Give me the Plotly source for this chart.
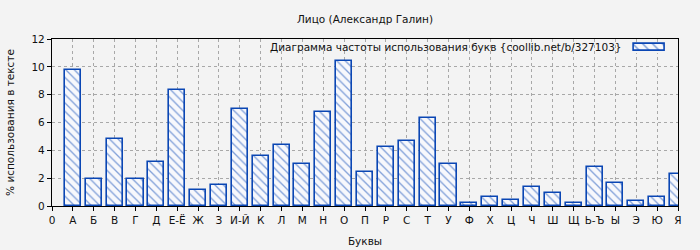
import plotly.graph_objects as go

letters = ["А", "Б", "В", "Г", "Д", "Е-Ё", "Ж", "З", "И-Й", "К", "Л", "М", "Н", "О", "П",
           "Р", "С", "Т", "У", "Ф", "Х", "Ц", "Ч", "Ш", "Щ", "Ь-Ъ", "Ы", "Э", "Ю", "Я"]
values = [9.75, 1.94, 4.79, 1.94, 3.14, 8.33, 1.13, 1.48, 6.97, 3.57, 4.36, 2.99, 6.73, 10.39, 2.42,
          4.21, 4.67, 6.30, 2.99, 0.19, 0.65, 0.41, 1.36, 0.91, 0.19, 2.78, 1.63, 0.34, 0.65, 2.28]
positions = list(range(1, len(letters) + 1))
tick_vals = [0] + positions
tick_text = ["0"] + letters

title = "Лицо (Александр Галин)"
legend_text = "Диаграмма частоты использования букв {coollib.net/b/327103}"
x_title = "Буквы"
y_title = "% использования в тексте"

blue = "#0a46b4"
bg = "#f3f3f3"
font = "DejaVu Sans"
fs = 10.5
pattern = dict(shape="\\", fgcolor=blue, bgcolor="#f7f8fc", size=6, solidity=0.22)

fig = go.Figure()
fig.add_trace(go.Bar(
    x=positions, y=values, width=0.77,
    marker=dict(color="#f7f8fc", line=dict(color=blue, width=1.6), pattern=pattern),
    showlegend=False, hoverinfo="x+y",
))
# legend swatch (drawn on a small overlay axis, to the right of the legend text)
fig.add_trace(go.Bar(
    x=[0.5], y=[1], width=1, xaxis="x2", yaxis="y2",
    marker=dict(color="#f7f8fc", line=dict(color=blue, width=1.6),
                pattern=dict(shape="\\", fgcolor=blue, bgcolor="#f7f8fc", size=7, solidity=0.22)),
    showlegend=False, hoverinfo="skip",
))

fig.update_layout(
    width=700, height=250,
    margin=dict(l=52, r=22, t=39, b=44, autoexpand=False),
    paper_bgcolor=bg, plot_bgcolor=bg,
    font=dict(family=font, size=fs, color="#111"),
    title=dict(text=title, x=(52 + 313) / 700, xanchor="center", y=1 - 19 / 250, yanchor="middle",
               font=dict(family=font, size=fs, color="#111")),
    bargap=0,
    xaxis=dict(
        range=[0, 30], tickmode="array", tickvals=tick_vals, ticktext=tick_text,
        showline=True, linecolor="#000", linewidth=1.3, mirror=True,
        ticks="outside", ticklen=4, tickcolor="#000",
        showgrid=True, gridcolor="#a8a8a8", griddash="dot", gridwidth=1,
        zeroline=False, automargin=False,
        title=dict(text=x_title, standoff=12, font=dict(size=fs)),
        tickfont=dict(size=fs),
    ),
    yaxis=dict(
        range=[0, 12], tickmode="linear", tick0=0, dtick=2,
        showline=True, linecolor="#000", linewidth=1.3, mirror=True,
        ticks="outside", ticklen=4, tickcolor="#000",
        showgrid=True, gridcolor="#a8a8a8", griddash="dot", gridwidth=1,
        zeroline=False, automargin=False,
        title=dict(text=y_title, standoff=14, font=dict(size=fs)),
        tickfont=dict(size=fs),
    ),
    xaxis2=dict(domain=[(630.9 - 52) / 626, (668.1 - 52) / 626], range=[-0.1, 1.1], anchor="y2",
                visible=False, fixedrange=True),
    yaxis2=dict(domain=[(206 - 53.1) / 167, (206 - 41.9) / 167], range=[-0.3, 1.3], anchor="x2",
                visible=False, fixedrange=True),
    annotations=[dict(text=legend_text, xref="paper", yref="paper",
                      x=(624 - 52) / 626, y=(206 - 47) / 167, xanchor="right", yanchor="middle",
                      showarrow=False, font=dict(family=font, size=fs, color="#111"))],
)

fig.write_html("out.html")
